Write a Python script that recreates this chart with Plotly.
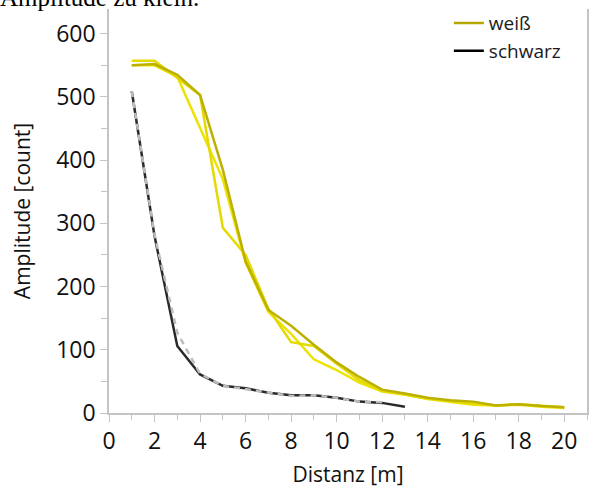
import plotly.graph_objects as go

# distances [m]
dist_w = list(range(1, 21))
dist_s = list(range(1, 14))

# weiß (three measurement runs)
weiss_a = [550, 552, 535, 503, 385, 240, 163, 138, 108, 80, 57, 37, 31, 24, 20, 18, 12, 14, 11, 9]
weiss_b = [557, 557, 530, 503, 293, 250, 165, 112, 106, 78, 52, 35, 30, 23, 19, 15, 12, 14, 11, 9]
weiss_c = [550, 550, 532, 450, 370, 238, 160, 125, 85, 68, 48, 34, 29, 22, 18, 13, 12, 13, 10, 8]

# schwarz (two measurement runs)
schwarz_a = [509, 280, 106, 61, 43, 39, 32, 28, 28, 24, 18, 16, 10]
schwarz_b = [509, 282, 127, 62, 43, 38, 32, 27, 28, 24, 18, 17]

font_main = "Open Sans"
axis_col = "#c4c4c4"

fig = go.Figure()

fig.add_trace(go.Scatter(x=dist_s, y=schwarz_a, mode="lines", name="schwarz",
                         line=dict(color="#2a2a2a", width=2.5), legendgroup="s",
                         showlegend=False))
fig.add_trace(go.Scatter(x=dist_s[:len(schwarz_b)], y=schwarz_b, mode="lines",
                         line=dict(color="#bdbdbd", width=2.5, dash="6px,5px"),
                         legendgroup="s", showlegend=False))

fig.add_trace(go.Scatter(x=dist_w, y=weiss_c, mode="lines",
                         line=dict(color="#ece300", width=2.5), legendgroup="w", showlegend=False))
fig.add_trace(go.Scatter(x=dist_w, y=weiss_b, mode="lines",
                         line=dict(color="#e4da00", width=2.5), legendgroup="w", showlegend=False))
fig.add_trace(go.Scatter(x=dist_w, y=weiss_a, mode="lines",
                         line=dict(color="#bcb000", width=2.5), legendgroup="w", showlegend=False))

# legend entries
fig.add_trace(go.Scatter(x=[None], y=[None], mode="lines", name="weiß",
                         line=dict(color="#b3a700", width=2.5)))
fig.add_trace(go.Scatter(x=[None], y=[None], mode="lines", name="schwarz",
                         line=dict(color="#000000", width=2.5)))

fig.update_layout(
    width=589, height=488,
    margin=dict(l=109, r=2, t=9, b=75),
    paper_bgcolor="white", plot_bgcolor="white",
    font=dict(family=font_main, color="#1a1a1a"),
    showlegend=True,
    legend=dict(x=0.711, y=1.012, xanchor="left", yanchor="top",
                font=dict(size=19, color="#1a1a1a", family=font_main),
                bgcolor="rgba(0,0,0,0)", tracegroupgap=0, itemwidth=30),
    xaxis=dict(range=[0, 21], tickmode="array", tickvals=list(range(0, 21, 2)),
               automargin=False,
               showgrid=False, zeroline=False, showline=True, linecolor=axis_col, linewidth=1.5,
               ticks="outside", ticklen=7, tickcolor=axis_col, tickwidth=1,
               minor=dict(dtick=1, ticks="outside", ticklen=5, tickcolor=axis_col),
               tickfont=dict(size=23, color="#111"),
               title=dict(text="Distanz [m]", font=dict(size=21, color="#111"), standoff=13)),
    yaxis=dict(range=[0, 639], tickmode="array", tickvals=list(range(0, 601, 100)),
               automargin=False,
               showgrid=False, zeroline=False, showline=True, linecolor=axis_col, linewidth=1.5,
               mirror=True,
               ticks="outside", ticklen=7, tickcolor=axis_col, tickwidth=1,
               minor=dict(dtick=50, ticks="outside", ticklen=6, tickcolor=axis_col),
               tickfont=dict(size=23, color="#111"),
               title=dict(text="Amplitude [count]", font=dict(size=21, color="#111"), standoff=20)),
    annotations=[dict(text="Amplitude zu klein.", xref="paper", yref="paper",
                      x=0, y=1, xanchor="left", yanchor="bottom", xshift=-111, yshift=-4,
                      showarrow=False,
                      font=dict(family="Liberation Serif", size=25, color="#000"))],
)

fig.write_html("out.html", config={"displayModeBar": False},
               post_script="document.body.style.margin='0';")
